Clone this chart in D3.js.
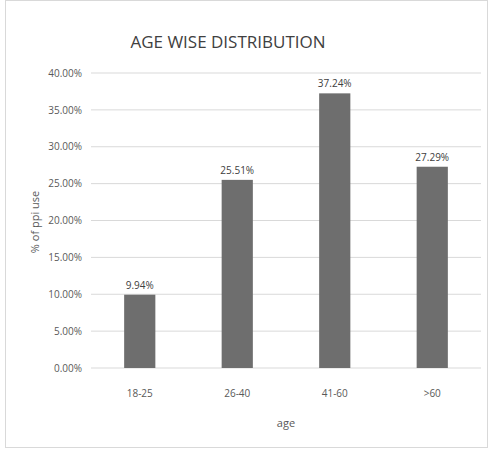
<!DOCTYPE html>
<html>
<head>
<meta charset="utf-8">
<script src="https://cdn.jsdelivr.net/npm/d3@7"></script>
<style>
  body { margin: 0; background: #fff; }
  text { font-family: "Open Sans", "Liberation Sans", sans-serif; }
</style>
</head>
<body>
<div id="chart"></div>
<script>
// Chart data
const categories = ["18-25", "26-40", "41-60", ">60"];
const values = [9.94, 25.51, 37.24, 27.29];
const yTicks = [0, 5, 10, 15, 20, 25, 30, 35, 40];

let width = 492,
    height = 450;

let margin = {
    top: 73,
    bottom: 82,
    left: 91,
    right: 11
}

let svg = d3.select('#chart')
    .append('svg')
    .attr('width', width)
    .attr('height', height)
    .style('background', 'white');

// Outer frame
svg.append('rect')
    .attr('x', 5.5)
    .attr('y', 0.5)
    .attr('width', 482)
    .attr('height', 447)
    .attr('fill', 'none')
    .attr('stroke', '#d9d9d9');

let xScale = d3.scaleBand()
    .domain(categories)
    .range([margin.left, width - margin.right])
    .paddingInner(0.68)
    .paddingOuter(0.34);

let yScale = d3.scaleLinear()
    .domain([0, 40])
    .range([height - margin.bottom, margin.top]);

// Gridlines
svg.append('g')
    .selectAll('line')
    .data(yTicks)
    .enter()
    .append('line')
    .attr('x1', margin.left)
    .attr('x2', width - margin.right)
    .attr('y1', d => yScale(d))
    .attr('y2', d => yScale(d))
    .attr('stroke', '#d9d9d9')
    .attr('stroke-width', 1);

// Y axis
let yAxis = svg.append('g')
    .attr('transform', `translate(${margin.left},0)`)
    .call(d3.axisLeft(yScale).tickValues(yTicks).tickSize(0).tickPadding(9)
        .tickFormat(d => d.toFixed(2) + '%'));
yAxis.select('.domain').remove();
yAxis.selectAll('text')
    .style('font-size', '10px')
    .attr('fill', '#595959');

// X axis
let xAxis = svg.append('g')
    .attr('transform', `translate(0,${height - margin.bottom})`)
    .call(d3.axisBottom(xScale).tickSize(0).tickPadding(22));
xAxis.select('.domain').remove();
xAxis.selectAll('text')
    .style('font-size', '10px')
    .attr('fill', '#595959');

// Bars
svg.selectAll('.bar')
    .data(values)
    .enter()
    .append('rect')
    .attr('class', 'bar')
    .attr('x', (d, i) => xScale(categories[i]))
    .attr('y', d => yScale(d))
    .attr('width', xScale.bandwidth())
    .attr('height', d => yScale(0) - yScale(d))
    .attr('fill', '#6e6e6e');

// Value labels
svg.selectAll('.label')
    .data(values)
    .enter()
    .append('text')
    .attr('class', 'label')
    .attr('x', (d, i) => xScale(categories[i]) + xScale.bandwidth() / 2)
    .attr('y', d => yScale(d) - 6)
    .text(d => d.toFixed(2) + '%')
    .style('text-anchor', 'middle')
    .style('font-size', '10px')
    .attr('fill', '#404040');

// Title
svg.append('text')
    .attr('x', 228)
    .attr('y', 48)
    .text('AGE WISE DISTRIBUTION')
    .style('text-anchor', 'middle')
    .style('font-size', '17px')
    .attr('fill', '#404040');

// X axis label
svg.append('text')
    .attr('x', (margin.left + width - margin.right) / 2)
    .attr('y', 427)
    .text('age')
    .style('text-anchor', 'middle')
    .style('font-size', '11px')
    .attr('fill', '#595959');

// Y axis label
svg.append('text')
    .attr('x', -222)
    .attr('y', 39)
    .attr('transform', 'rotate(-90)')
    .text('% of ppi use')
    .style('text-anchor', 'middle')
    .style('font-size', '11px')
    .attr('fill', '#595959');
</script>
</body>
</html>
